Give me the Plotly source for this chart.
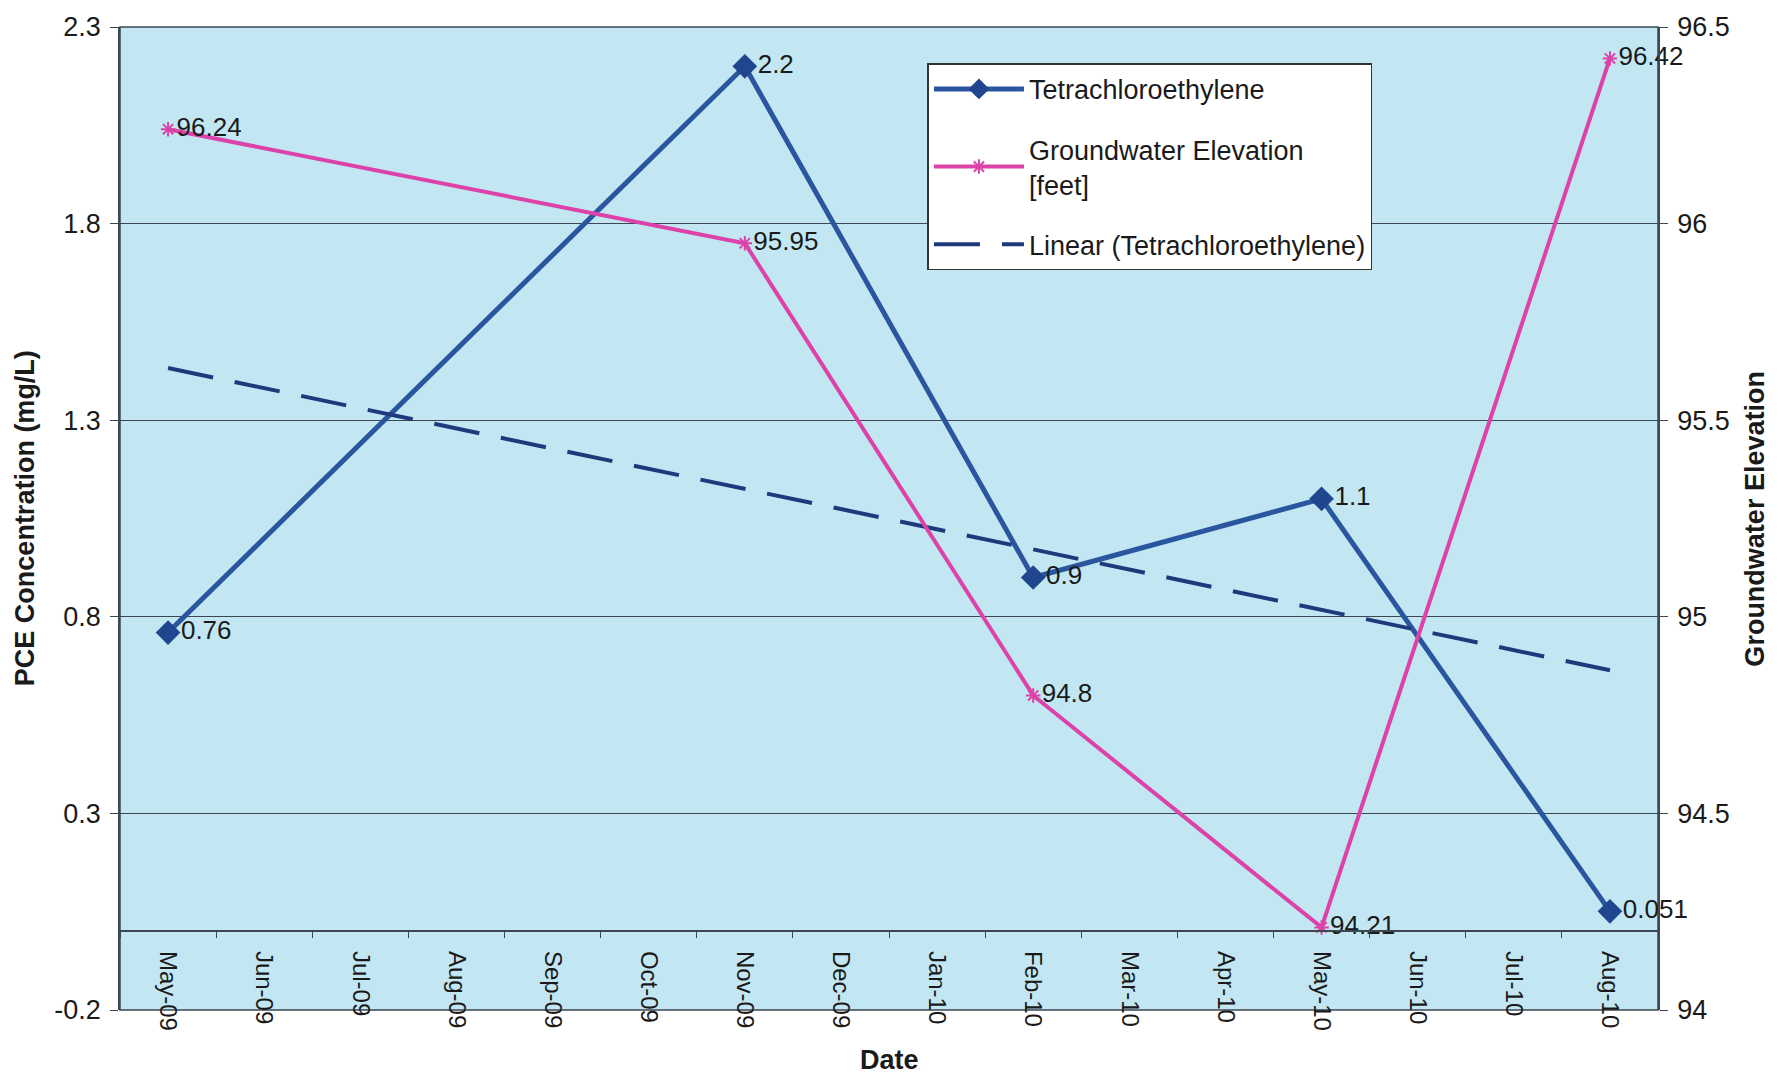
import numpy as np
import plotly.graph_objects as go

# Monthly category axis
months = ["May-09", "Jun-09", "Jul-09", "Aug-09", "Sep-09", "Oct-09", "Nov-09",
          "Dec-09", "Jan-10", "Feb-10", "Mar-10", "Apr-10", "May-10", "Jun-10",
          "Jul-10", "Aug-10"]

# Sampling events
sample_dates = ["May-09", "Nov-09", "Feb-10", "May-10", "Aug-10"]
pce_mg_l = [0.76, 2.2, 0.9, 1.1, 0.051]
gw_elev_ft = [96.24, 95.95, 94.8, 94.21, 96.42]

pce_labels = ["0.76", "2.2", "0.9", "1.1", "0.051"]
gw_labels = ["96.24", "95.95", "94.8", "94.21", "96.42"]

# Axis ranges
pce_range = [-0.2, 2.3]
gw_range = [94.0, 96.5]

# Least-squares linear trend of PCE over month index
idx = np.array([months.index(d) for d in sample_dates], dtype=float)
slope, intercept = np.polyfit(idx, np.array(pce_mg_l), 1)
trend_x = [sample_dates[0], sample_dates[-1]]
trend_y = [intercept + slope * idx[0], intercept + slope * idx[-1]]

FONT = "Liberation Sans, Arial, sans-serif"
INK = "#1a1a1a"
GRID = "#3d4752"
BLUE = "#2a56a0"
PINK = "#dc42a8"
NAVY = "#1f3a7c"

fig = go.Figure()

fig.add_trace(go.Scatter(
    x=sample_dates, y=pce_mg_l, name="Tetrachloroethylene",
    mode="lines+markers+text", text=pce_labels, textposition="middle right",
    textfont=dict(family=FONT, size=26, color=INK),
    line=dict(color=BLUE, width=5),
    marker=dict(symbol="diamond", size=19, color="#1f468e"),
    legendgroup="a", cliponaxis=False,
))

fig.add_trace(go.Scatter(
    x=sample_dates, y=gw_elev_ft, name="Groundwater Elevation<br>[feet]",
    mode="lines+markers+text", text=gw_labels, textposition="middle right",
    textfont=dict(family=FONT, size=26, color=INK),
    line=dict(color=PINK, width=4),
    marker=dict(symbol="asterisk-open", size=12, color=PINK,
                line=dict(color=PINK, width=2)),
    yaxis="y2", legendgroup="b", cliponaxis=False,
))

fig.add_trace(go.Scatter(
    x=trend_x, y=trend_y, name="Linear (Tetrachloroethylene)",
    mode="lines", line=dict(color=NAVY, width=4, dash="46px,22px"),
    legendgroup="c", hoverinfo="skip",
))

zero_pos = (0 - pce_range[0]) / (pce_range[1] - pce_range[0])

fig.update_layout(
    width=1786, height=1076,
    margin=dict(l=120, r=128, t=20, b=66),
    paper_bgcolor="white",
    plot_bgcolor="#c2e7f3",
    font=dict(family=FONT, size=24, color=INK),
    showlegend=True,
    legend=dict(
        x=0.525, y=0.963, xanchor="left", yanchor="top",
        bgcolor="white", bordercolor="#333333", borderwidth=1.5,
        font=dict(family=FONT, size=27, color=INK),
        itemwidth=90, tracegroupgap=22,
    ),
    xaxis=dict(
        type="category", categoryorder="array", categoryarray=months,
        range=[-0.5, len(months) - 0.5],
        anchor="free", position=zero_pos,
        showline=True, linecolor=GRID, linewidth=1.5,
        showgrid=False, zeroline=False,
        ticks="outside", tickson="boundaries", ticklen=6, tickcolor=GRID,
        tickangle=90, ticklabelstandoff=14,
        tickfont=dict(family=FONT, size=24, color=INK),
    ),
    yaxis=dict(
        range=pce_range,
        tickvals=[-0.2, 0.3, 0.8, 1.3, 1.8, 2.3],
        ticktext=["-0.2", "0.3", "0.8", "1.3", "1.8", "2.3"],
        showgrid=True, gridcolor=GRID, gridwidth=1.3,
        zeroline=False, showline=True, linecolor=GRID, linewidth=1.5,
        ticks="outside", ticklen=8, tickcolor=GRID, ticklabelstandoff=4,
        tickfont=dict(family=FONT, size=27, color=INK),
    ),
    yaxis2=dict(
        range=gw_range, overlaying="y", side="right",
        tickvals=[94, 94.5, 95, 95.5, 96, 96.5],
        ticktext=["94", "94.5", "95", "95.5", "96", "96.5"],
        showgrid=False, zeroline=False,
        showline=True, linecolor=GRID, linewidth=1.5,
        ticks="outside", ticklen=8, tickcolor=GRID, ticklabelstandoff=4,
        tickfont=dict(family=FONT, size=27, color=INK),
    ),
    shapes=[dict(
        type="rect", xref="paper", yref="paper", x0=0, x1=1, y0=0, y1=1,
        line=dict(color=GRID, width=1.5), fillcolor="rgba(0,0,0,0)",
        layer="below",
    )],
    annotations=[
        dict(text="<b>PCE Concentration (mg/L)</b>", xref="paper", yref="paper",
             x=-0.062, y=0.5, textangle=-90, showarrow=False,
             xanchor="center", yanchor="middle",
             font=dict(family=FONT, size=27, color=INK)),
        dict(text="<b>Groundwater Elevation</b>", xref="paper", yref="paper",
             x=1.0625, y=0.5, textangle=-90, showarrow=False,
             xanchor="center", yanchor="middle",
             font=dict(family=FONT, size=27, color=INK)),
        dict(text="<b>Date</b>", xref="paper", yref="paper",
             x=0.5, y=-0.051, showarrow=False,
             xanchor="center", yanchor="middle",
             font=dict(family=FONT, size=27, color=INK)),
    ],
)

fig.write_html("out.html")
